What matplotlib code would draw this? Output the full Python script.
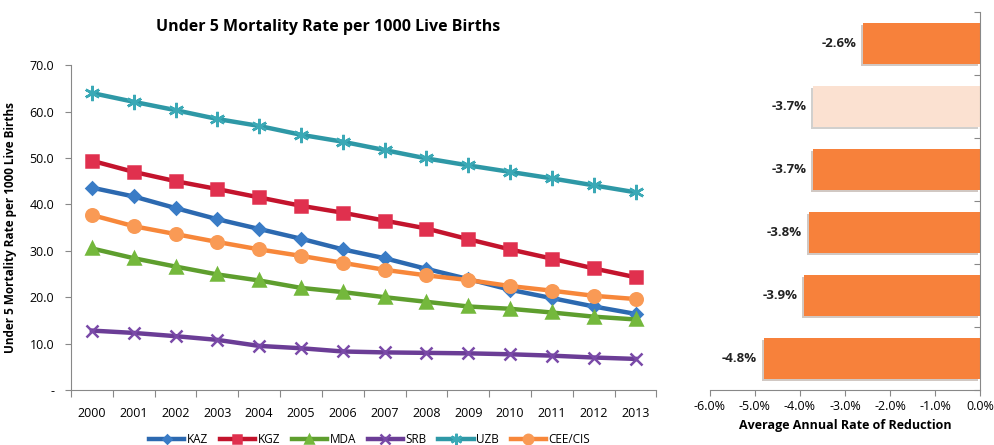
import numpy as np
import matplotlib
matplotlib.use("Agg")
import matplotlib.pyplot as plt
import matplotlib.patheffects as pe

plt.rcParams['font.family'] = ['Open Sans', 'DejaVu Sans']

years = list(range(2000, 2014))
kaz = [43.6, 41.7, 39.2, 36.8, 34.7, 32.6, 30.3, 28.4, 26.1, 23.9, 21.6, 19.8, 18.0, 16.4]
kgz = [49.4, 47.0, 45.0, 43.3, 41.5, 39.7, 38.2, 36.5, 34.8, 32.5, 30.3, 28.3, 26.2, 24.3]
mda = [30.5, 28.4, 26.6, 24.9, 23.6, 22.0, 21.1, 20.0, 19.0, 18.0, 17.5, 16.7, 15.8, 15.2]
srb = [12.8, 12.3, 11.6, 10.8, 9.5, 9.0, 8.3, 8.1, 8.0, 7.9, 7.7, 7.4, 7.0, 6.7]
uzb = [64.0, 62.1, 60.3, 58.4, 56.9, 55.0, 53.5, 51.7, 49.9, 48.4, 47.0, 45.6, 44.1, 42.6]
cee = [37.7, 35.3, 33.6, 31.9, 30.3, 28.9, 27.4, 25.9, 24.7, 23.7, 22.4, 21.4, 20.3, 19.6]

arr = [-2.6, -3.7, -3.7, -3.8, -3.9, -4.8]   # top to bottom
arr_light = [False, True, False, False, False, False]

fig = plt.figure(figsize=(9.94, 4.45), dpi=100)
ax = fig.add_axes([0.0714, 0.1236, 0.589, 0.730])

series = [
    ('KAZ', kaz, '#2C69B0', '#3A7CC6', 'D', 6),
    ('KGZ', kgz, '#C3142D', '#E0304E', 's', 8),
    ('MDA', mda, '#5E9E2E', '#74B83C', '^', 8),
    ('SRB', srb, '#6B3D96', '#7A4AA8', 'x', 9),
    ('UZB', uzb, '#2E98A6', '#3BA9B6', (6, 2, 0), 11),
    ('CEE/CIS', cee, '#F7873A', '#F99A55', 'o', 9),
]
for name, vals, col, mcol, mk, ms in series:
    ax.plot(years, vals, color=col, lw=3.2, marker=mk, ms=ms,
            markerfacecolor=mcol, markeredgecolor=mcol, markeredgewidth=1.8, label=name)

ax.set_xlim(1999.5, 2013.5)
ax.set_ylim(0, 70)
ax.set_xticks(np.arange(1999.5, 2014, 1))
ax.set_xticklabels([])
ax.set_xticks(years, minor=True)
ax.set_xticklabels([str(y) for y in years], minor=True)
ax.tick_params(axis='x', which='minor', length=0, pad=12, labelsize=9)
ax.tick_params(axis='x', which='major', length=5, direction='out', color='#888888')
ax.set_yticks(np.arange(0, 71, 10))
ax.set_yticklabels(['-'] + ['%.1f' % v for v in range(10, 71, 10)], fontsize=9)
ax.tick_params(axis='y', length=4, direction='out', color='#888888', pad=8)
for s in ['top', 'right']:
    ax.spines[s].set_visible(False)
for s in ['left', 'bottom']:
    ax.spines[s].set_color('#888888')
ax.set_ylabel('Under 5 Mortality Rate per 1000 Live Births', fontsize=8.5, fontweight='bold', labelpad=9)
ax.set_title('Under 5 Mortality Rate per 1000 Live Births', fontsize=11.5, fontweight='bold',
             x=0.44, y=1.08)
ax.legend(loc='upper center', bbox_to_anchor=(0.51, -0.1), ncol=6, frameon=False,
          fontsize=8.5, handlelength=3.0, columnspacing=1.0, handletextpad=0.2, markerscale=0.75)

# bar chart
bx = fig.add_axes([0.714, 0.1236, 0.272, 0.85])
pos = np.arange(len(arr))[::-1]
colors = ['#FBE1D1' if l else '#F7813B' for l in arr_light]
bars = bx.barh(pos, arr, height=0.65, color=colors, edgecolor='none')
for b in bars:
    b.set_path_effects([pe.SimplePatchShadow(offset=(-1.5, -1.5), alpha=0.25), pe.Normal()])
for p, v in zip(pos, arr):
    bx.text(v - 0.15, p, '%.1f%%' % v, ha='right', va='center', fontsize=9.5,
            fontweight='bold', color='#222222')
bx.set_xlim(-6, 0)
bx.set_ylim(-0.5, len(arr) - 0.5)
bx.set_xticks(np.arange(-6, 0.1, 1))
bx.set_xticklabels(['%.1f%%' % v for v in np.arange(-6, 0.1, 1)], fontsize=9)
bx.set_yticks(np.arange(-0.5, len(arr), 1))
bx.set_yticklabels([])
bx.yaxis.tick_right()
bx.tick_params(axis='y', direction='in', length=4, color='#888888')
bx.tick_params(axis='x', direction='out', length=4, color='#888888')
for s in ['top', 'left']:
    bx.spines[s].set_visible(False)
for s in ['right', 'bottom']:
    bx.spines[s].set_color('#888888')
bx.set_xlabel('Average Annual Rate of Reduction', fontsize=9, fontweight='bold', labelpad=4)

fig.savefig('out.png', dpi=100)
